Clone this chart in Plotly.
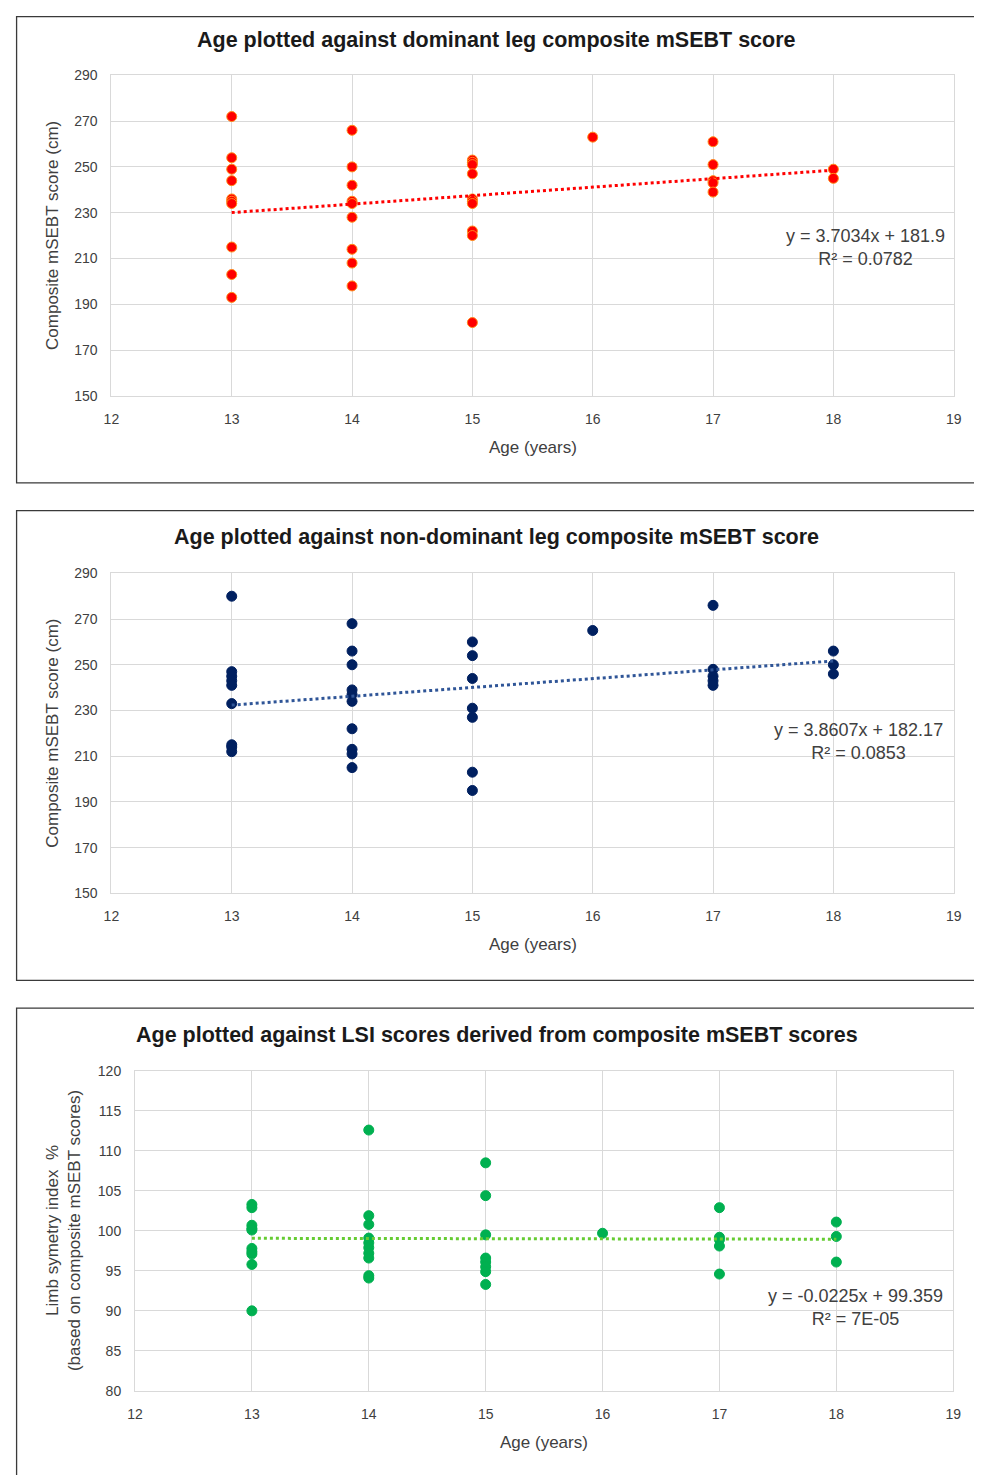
import plotly.graph_objects as go

# page body has an 8px margin: figure is sized to fit the 982x1483 window exactly
OFF = 8
W, H = 982 - 2 * OFF, 1483 - 2 * OFF

# ---------------- data ----------------
dom_age = [13]*10 + [14]*9 + [15]*10 + [16] + [17]*5 + [18]*2
dom_score = [272, 254, 249, 244, 236, 235, 234, 215, 203, 193,
             266, 250, 242, 235, 234, 228, 214, 208, 198,
             253, 252, 251, 247, 236, 235, 234, 222, 220, 182,
             263,
             261, 251, 244, 243, 239,
             249, 245]
dom_slope, dom_icpt, dom_r2 = 3.7034, 181.9, "0.0782"

nd_age = [13]*9 + [14]*10 + [15]*7 + [16] + [17]*5 + [18]*3
nd_score = [280, 247, 245, 243, 241, 233, 215, 214, 212,
            268, 256, 250, 239, 237, 234, 222, 213, 211, 205,
            260, 254, 244, 231, 227, 203, 195,
            265,
            276, 248, 245, 243, 241,
            256, 250, 246]
nd_slope, nd_icpt, nd_r2 = 3.8607, 182.17, "0.0853"

lsi_age = [13]*10 + [14]*10 + [15]*8 + [16] + [17]*5 + [18]*3
lsi_score = [103.3, 102.9, 100.7, 100.3, 100.1, 97.8, 97.4, 97.1, 95.8, 90.0,
             112.6, 101.9, 100.8, 99.1, 98.5, 97.9, 97.2, 96.6, 94.4, 94.1,
             108.5, 104.4, 99.5, 96.6, 96.1, 95.5, 94.9, 93.3,
             99.7,
             102.9, 99.2, 98.9, 98.1, 94.6,
             101.1, 99.3, 96.1]
lsi_slope, lsi_icpt, lsi_r2 = -0.0225, 99.359, "7E-05"

titles = ["Age plotted against dominant leg composite mSEBT score",
          "Age plotted against non-dominant leg composite mSEBT score",
          "Age plotted against LSI scores derived from composite mSEBT scores"]
eq_texts = ["y = 3.7034x + 181.9", "y = 3.8607x + 182.17", "y = -0.0225x + 99.359"]
x_ticks = [12, 13, 14, 15, 16, 17, 18, 19]
score_ticks = [150, 170, 190, 210, 230, 250, 270, 290]
lsi_ticks = [80, 85, 90, 95, 100, 105, 110, 115, 120]

# ---------------- layout helpers (arguments are window pixels) ----------------
def px_x(p):
    return (p - OFF) / W

def px_y(p):
    return 1 - (p - OFF) / H

panels = [
    dict(x0=105, x1=961.5, y0=68, y1=392, box=(8.6, 8.6, 480), ticks=score_ticks,
         rng=[150, 290], color="#FF0000", line="#FF0000", line_out="#FF8C1A",
         ages=dom_age, vals=dom_score, slope=dom_slope, icpt=dom_icpt, r2=dom_r2,
         eq_xy=(872, 242), title_y=32, ytitle="Composite mSEBT score (cm)", ytx=45),
    dict(x0=105, x1=961.5, y0=571.5, y1=895, box=(8.6, 508, 983), ticks=score_ticks,
         rng=[150, 290], color="#002060", line="#2F5597", line_out="#002060",
         ages=nd_age, vals=nd_score, slope=nd_slope, icpt=nd_icpt, r2=nd_r2,
         eq_xy=(865, 742), title_y=535, ytitle="Composite mSEBT score (cm)", ytx=45),
    dict(x0=129, x1=961, y0=1074.5, y1=1398, box=(8.6, 1011, 1520), ticks=lsi_ticks,
         rng=[80, 120], color="#00B050", line="#66CC33", line_out="#00B050",
         ages=lsi_age, vals=lsi_score, slope=lsi_slope, icpt=lsi_icpt, r2=lsi_r2,
         eq_xy=(862, 1314), title_y=1038, ytitle=None, ytx=45),
]

fig = go.Figure()
annotations = []
shapes = []
TICKFONT = dict(family="Liberation Sans", size=14, color="#404040")

for i, p in enumerate(panels):
    n = "" if i == 0 else str(i + 1)
    xa, ya = "x" + n, "y" + n
    fig.add_trace(go.Scatter(
        x=p["ages"], y=p["vals"], mode="markers", xaxis=xa, yaxis=ya,
        marker=dict(size=10, color=p["color"],
                    line=dict(width=1, color=p["line_out"])),
        showlegend=False, hoverinfo="x+y"))
    tx = [min(p["ages"]), max(p["ages"])]
    ty = [p["slope"] * v + p["icpt"] for v in tx]
    fig.add_trace(go.Scatter(
        x=tx, y=ty, mode="lines", xaxis=xa, yaxis=ya,
        line=dict(color=p["line"], width=3, dash="dot"),
        showlegend=False, hoverinfo="skip"))

    axis_common = dict(showgrid=True, gridcolor="#D9D9D9", gridwidth=1,
                       showline=True, linecolor="#D9D9D9", mirror=True,
                       zeroline=False, tickfont=TICKFONT, ticks="",
                       ticklabelstandoff=10)
    fig.update_layout(**{
        ("xaxis" + n): dict(domain=[px_x(p["x0"]), px_x(p["x1"])],
                            range=[12, 19], tickvals=x_ticks,
                            anchor=ya, **axis_common),
        ("yaxis" + n): dict(domain=[px_y(p["y1"]), px_y(p["y0"])],
                            range=p["rng"], tickvals=p["ticks"],
                            anchor=xa, **axis_common),
    })

    bx, btop, bbot = p["box"]
    shapes.append(dict(type="rect", xref="paper", yref="paper",
                       x0=px_x(bx), x1=px_x(1010), y0=px_y(bbot), y1=px_y(btop),
                       line=dict(color="#3A3A3A", width=1.3), fillcolor="rgba(0,0,0,0)"))
    annotations.append(dict(text="<b>" + titles[i] + "</b>", xref="paper", yref="paper",
                            x=px_x(497), y=px_y(p["title_y"]), xanchor="center", yanchor="middle",
                            showarrow=False,
                            font=dict(family="Liberation Sans", size=21.5, color="#1A1A1A")))
    annotations.append(dict(text="Age (years)", xref="paper", yref="paper",
                            x=px_x((p["x0"] + p["x1"]) / 2), y=px_y(p["y1"] + 52),
                            xanchor="center", yanchor="middle", showarrow=False,
                            font=dict(family="Liberation Sans", size=17, color="#404040")))
    ymid = (p["y0"] + p["y1"]) / 2
    if p["ytitle"]:
        annotations.append(dict(text=p["ytitle"], xref="paper", yref="paper",
                                x=px_x(p["ytx"]), y=px_y(ymid), textangle=-90,
                                xanchor="center", yanchor="middle", showarrow=False,
                                font=dict(family="Liberation Sans", size=17, color="#404040")))
    else:
        annotations.append(dict(text="Limb symetry index  %<br>(based on composite mSEBT scores)",
                                xref="paper", yref="paper",
                                x=px_x(57), y=px_y(ymid), textangle=-90,
                                xanchor="center", yanchor="middle", showarrow=False,
                                font=dict(family="Liberation Sans", size=17, color="#404040")))
    ex, ey = p["eq_xy"]
    annotations.append(dict(text=eq_texts[i] + "<br>R² = " + p["r2"], xref="paper", yref="paper",
                            x=px_x(ex), y=px_y(ey), xanchor="center", yanchor="middle",
                            align="center", showarrow=False,
                            font=dict(family="Liberation Sans", size=18, color="#404040")))

fig.update_layout(width=W, height=H, margin=dict(l=0, r=0, t=0, b=0),
                  paper_bgcolor="white", plot_bgcolor="white",
                  annotations=annotations, shapes=shapes)

fig.write_html("out.html", config={"displayModeBar": False})
